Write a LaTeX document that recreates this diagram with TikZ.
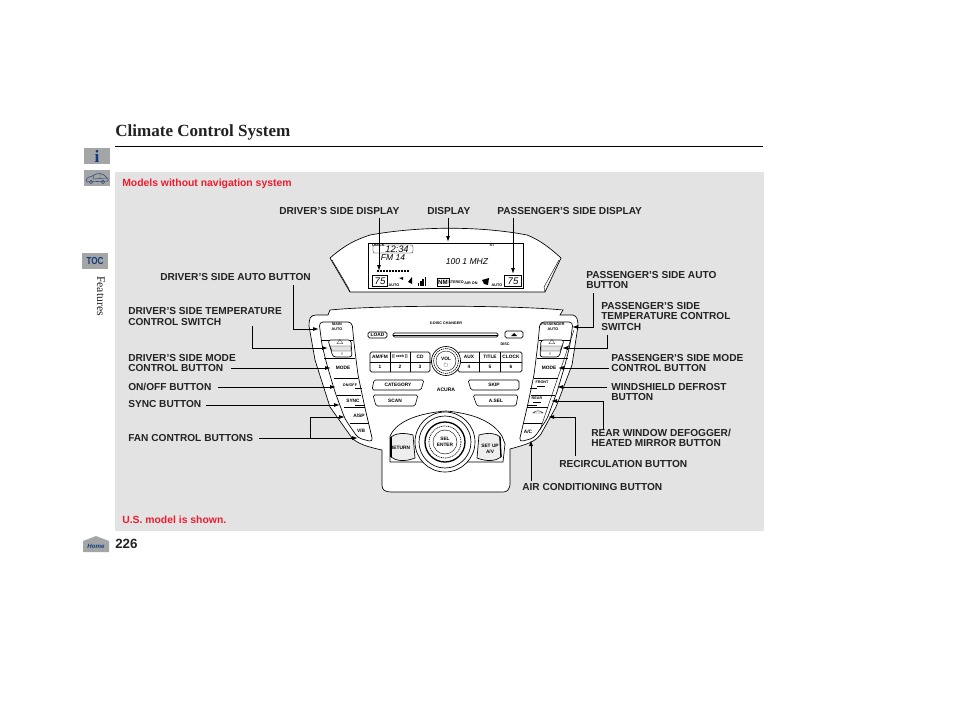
\documentclass[tikz,border=0pt]{standalone}
\usepackage{amssymb}
\usepackage{fontspec}
\setmainfont{Liberation Sans}
\newfontfamily\serifT{Liberation Serif}
\usetikzlibrary{arrows.meta}
\definecolor{pagegray}{HTML}{E3E3E3}
\definecolor{iconbg}{HTML}{A3A5A6}
\definecolor{navy}{HTML}{123C78}
\definecolor{redtxt}{HTML}{EE1C2E}
\definecolor{ink}{HTML}{222222}
\newcommand{\tn}[1]{{\fontsize{3.6}{4}\selectfont\bfseries #1}}
\newcommand{\tm}[1]{{\fontsize{2.8}{3}\selectfont\bfseries #1}}
\newcommand{\lcdtxt}[1]{{\fontsize{6.4}{8}\selectfont\itshape #1}}
\tikzset{
 lab/.style={anchor=west,inner sep=0pt,text=ink,font=\bfseries\fontsize{7.6}{7.8}\selectfont,align=left},
 red lab/.style={anchor=west,inner sep=0pt,text=redtxt,font=\bfseries\fontsize{7.8}{8}\selectfont},
 lead/.style={draw=black,line width=0.7pt,-{Latex[length=4.5pt,width=3pt]}},
 plain lead/.style={draw=black,line width=0.7pt},
 part/.style={draw=black,line width=0.5pt},
 thin part/.style={draw=black,line width=0.3pt},
 btn/.style={draw=black,line width=0.45pt,rounded corners=1.2pt,fill=white},
 tiny txt/.style={inner sep=0pt,text=black},
 two small/.style={inner sep=0pt,text=black,align=center,font=\bfseries\fontsize{2.8}{3.4}\selectfont},
 two mid/.style={inner sep=0pt,text=black,align=center,font=\bfseries\fontsize{3.6}{4.6}\selectfont},
 icon/.style={fill=iconbg,draw=none},
}
\newcommand{\sidecolumn}{%
  \draw[part,fill=white,rounded corners=3pt] (319,322) -- (352,322) -- (354,343) -- (358,375) -- (365,408) -- (373,442) -- (358,438) -- (345,419) -- (335,392) -- (327,365) -- (322,345) -- cycle;
  \draw[thin part] (321,340) -- (353,340);
  \draw[part,rounded corners=2pt,fill=white] (328,340) -- (351,340) -- (352,357) -- (333,357) -- cycle;
  \draw[thin part,fill=pagegray] (330,346) -- (351,346) -- (351,351) -- (332,351) -- cycle;
  \draw[thin part] (324,358) -- (355,358);
  \draw[part] (334,378) -- (358,378);
  \draw[thin part] (337,395) -- (361,395);
  \draw[part] (344,407) -- (365,407);
  \draw[part] (350,423) -- (369,423);
  \draw[thin part] (355,388) -- (362,388);
  \draw[thin part] (355,405) -- (365,405);
}
\begin{document}
\begin{tikzpicture}[x=0.75pt,y=-0.75pt]
\useasboundingbox[fill=white] (0,0) rectangle (954,710);
% page furniture
\node[anchor=base west,inner sep=0pt,text=ink,font=\serifT\bfseries\fontsize{12.8}{14}\selectfont] (title) at (115,137) {Climate Control System};
\coordinate (ruleL) at (115,146.5); \coordinate (ruleR) at (763,146.5);
\draw[line width=0.6pt,black] (ruleL) -- (ruleR);
\fill[pagegray] (115,172) rectangle (764,531);
\node[red lab] (models) at (122,184) {Models without navigation system};
\node[red lab] (usmodel) at (122,520) {U.S. model is shown.};
\node[anchor=west,inner sep=0pt,text=ink,font=\bfseries\fontsize{10}{11}\selectfont] (page) at (115,544) {226};
\node[rotate=-90,inner sep=0pt,text=ink,font=\serifT\fontsize{8.8}{9}\selectfont] (features) at (101,296) {Features};
% icons
\fill[icon] (84,148) rectangle (110,164);
\node[inner sep=0pt,text=navy,font=\serifT\bfseries\fontsize{13}{13}\selectfont] (infoi) at (97,156) {i};
\fill[icon] (84,170) rectangle (110,186);
\draw[navy!70!gray,line width=0.45pt] (86,180) .. controls (88,176) and (92,177) .. (94,175) .. controls (98,172) and (104,174) .. (106,177) .. controls (108,178) and (109,180) .. (108,181) -- (87,182) -- cycle;
\draw[navy!70!gray,line width=0.35pt] (91,182) circle (1.7) (103,182) circle (1.7) (94,175) -- (93,179) -- (107,178) (100,174) -- (100,179);
\fill[icon] (82,253) rectangle (108,269);
\node[inner sep=0pt,text=navy,xscale=0.8,font=\bfseries\fontsize{7.6}{8}\selectfont] (toc) at (95,261) {TOC};
\fill[icon] (83,541) -- (96,536) -- (109,541) -- (109,552) -- (83,552) -- cycle;
\node[inner sep=0pt,text=navy,font=\bfseries\itshape\fontsize{4.6}{5}\selectfont] (home) at (96,546) {Home};
% display housing
\draw[part,fill=white] (330,258) .. controls (345,245) and (355,240) .. (370,235) .. controls (420,226) and (480,226) .. (527,235) .. controls (540,240) and (550,248) .. (561,258) -- (545,292) -- (350,292) -- cycle;
\draw[thin part] (332,260) -- (348,287) -- (350,292);
\draw[thin part] (559,260) -- (544,287) -- (545,292);
\draw[line width=0.7pt,fill=white] (368,243) rectangle (523,288);
\draw[thin part,rounded corners=1pt] (373,245) rectangle (413,253);
\node[tiny txt,font=\itshape\fontsize{7}{7}\selectfont] (clock) at (397,249) {12:34};
\node[tiny txt] at (378,245.5) {\tm{TRACK}};
\node[tiny txt] (fm) at (393,258) {\lcdtxt{FM 14}};
\node[tiny txt] (freq) at (467,262) {\lcdtxt{100 1 MHZ}};
\node[tiny txt] at (492,245.5) {\tm{ST}};
\foreach \i in {0,...,10} \fill (377+3*\i,269.5) rectangle +(2,2.4);
\draw[thin part] (372,275) rectangle (387,286);
\draw[thin part] (504,275) rectangle (521,286);
\node[tiny txt,font=\itshape\fontsize{7.2}{7}\selectfont] (tempL) at (380,281) {75};
\node[tiny txt,font=\itshape\fontsize{7.2}{7}\selectfont] (tempR) at (513,281) {75};
\node[tiny txt] at (394,285) {\tm{AUTO}};
\node[tiny txt] at (497,285) {\tm{AUTO}};
\fill (399,278) -- (403,277) -- (403,280) -- cycle (408,282) -- (412,277) -- (412,284) -- cycle;
\foreach \i/\h in {0/3,1/5,2/7,3/9} \fill (418+2.2*\i,286-\h) rectangle +(1.4,\h);
\draw[part] (437,278) rectangle (449,286);
\node[tiny txt,font=\bfseries\fontsize{4.6}{5}\selectfont] at (443,282) {NM};
\node[tiny txt] at (456,282) {\tm{STEREO}};
\node[tiny txt] at (471,283) {\tm{AIR ON}};
\fill (482,280) -- (489,278) -- (488,285) -- (484,284) -- cycle;
% panel
\draw[part,fill=white] (330,310) .. controls (380,305) and (510,305) .. (563,310) -- (560,315) -- (573,315) .. controls (577,316) and (578,320) .. (578,326) -- (572,365) -- (556,407) -- (541,434) .. controls (535,442) and (528,444) .. (510,449) -- (510,485) .. controls (509,490) and (507,492) .. (503,492) -- (391,492) .. controls (385,492) and (382,490) .. (382,485) -- (382,450) .. controls (368,447) and (358,444) .. (352,438) -- (330,407) -- (315,360) -- (309,326) .. controls (309,319) and (310,315) .. (316,315) -- (328,315) -- cycle;
\sidecolumn
\begin{scope}[shift={(892,0)},xscale=-1]\sidecolumn\end{scope}
\draw[thin part] (352,438) -- (354,440) (540,430) -- (574,330);
\node[two small] (mainL) at (337,326.5) {MAIN\\AUTO};
\node[two small] (mainR) at (553,326.5) {PASSENGER\\AUTO};
\node[tiny txt] at (340,342.7) {\tm{$\triangle$}};
\node[tiny txt] at (342,354) {\tm{$\triangledown$}};
\node[tiny txt] at (552,342.7) {\tm{$\triangle$}};
\node[tiny txt] at (550,354) {\tm{$\triangledown$}};
\node[tiny txt] at (343,367.5) {\tn{MODE}};
\node[tiny txt] at (549,367.5) {\tn{MODE}};
\node[tiny txt] at (350,385) {\tm{ON/OFF}};
\node[tiny txt] at (353,401) {\tn{SYNC}};
\node[tiny txt] at (359,416) {\tn{A/SP}};
\node[tiny txt] at (361,430.5) {\tn{V/B}};
\node[tiny txt] at (542,382) {\tm{FRONT}};
\node[tiny txt] at (537,398) {\tm{REAR}};
\node[tiny txt] at (528,432) {\tn{A/C}};
\draw[thin part] (533,413) .. controls (536,410) and (540,410) .. (543,413) -- cycle;
\draw[thin part] (537,386) -- (545,386) (533,402) -- (541,402);
% radio
\node[tiny txt] (changer) at (446,323) {\tm{6-DISC CHANGER}};
\draw[btn] (368,332) rectangle (387,338);
\node[tiny txt] (load) at (377.5,335) {\tn{LOAD}};
\draw[part,rounded corners=1pt] (393,333) rectangle (498,337);
\draw[thin part] (393,335) -- (498,335);
\draw[btn] (505,331) rectangle (523,338);
\fill (511,336) -- (514,333) -- (517,336) -- cycle;
\node[tiny txt] at (505,344) {\tm{DISC}};
\draw[btn] (370,352) rectangle (430,372);
\draw[btn] (458,352) rectangle (522,372);
\draw[thin part] (370,362) -- (522,362);
\foreach \x in {390,410,479,500} \draw[thin part] (\x,352) -- (\x,372);
\node[tiny txt] at (380,357) {\tn{AM/FM}};
\node[tiny txt] at (400,357) {\tm{[[ seek ]]}};
\node[tiny txt] at (420,357) {\tn{CD}};
\node[tiny txt] at (469,357) {\tn{AUX}};
\node[tiny txt] at (490,357) {\tn{TITLE}};
\node[tiny txt] at (511,357) {\tn{CLOCK}};
\foreach \x/\t in {380/1,400/2,420/3,469/4,490/5,511/6} \node[tiny txt] at (\x,367) {\tn{\t}};
\draw[part,fill=white] (446,361) circle (14.5);
\draw[part,dash pattern=on 1pt off 0.6pt] (446,361) circle (12.5);
\draw[thin part] (446,361) circle (10);
\node[two mid] (vol) at (446,362.5) {VOL\\$\circlearrowright$};
\draw[btn] (374,380) -- (424,380) -- (421,390) -- (372,390) -- cycle;
\node[tiny txt] (cat) at (398,385) {\tn{CATEGORY}};
\draw[btn] (373,395) -- (418,395) -- (415,406) -- (376,406) -- cycle;
\node[tiny txt] (scan) at (395,400.5) {\tn{SCAN}};
\node[tiny txt,font=\bfseries\fontsize{3.8}{4}\selectfont] (acura) at (446,389.5) {ACURA};
\draw[btn] (468,380) -- (519,380) -- (519,390) -- (471,390) -- cycle;
\node[tiny txt] (skip) at (494,385) {\tn{SKIP}};
\draw[btn] (473,395) -- (518,395) -- (516,406) -- (477,406) -- cycle;
\node[tiny txt] (asel) at (496,400.5) {\tn{A.SEL}};
% lower controller
\draw[part,fill=white] (390,436) .. controls (395,425) and (410,414) .. (446,411) .. controls (480,414) and (495,425) .. (502,436) -- (505,444) -- (503,462) -- (390,462) -- cycle;
\draw[part,fill=pagegray!60] (391,437) .. controls (398,432) and (405,433) .. (413,435) -- (415,458) .. controls (405,462) and (396,461) .. (391,457) -- cycle;
\draw[line width=1pt] (391,437) -- (391,457);
\draw[part,fill=pagegray!60] (500,437) .. controls (494,432) and (487,433) .. (479,435) -- (477,458) .. controls (487,462) and (496,461) .. (501,457) -- cycle;
\draw[line width=1pt] (500,437) -- (501,457);
\node[tiny txt] (return) at (400,448) {\tn{RETURN}};
\node[two mid] (setup) at (490,449) {SET UP\\A/V};
\draw[part,fill=white] (445,442) circle (30);
\draw[part] (445,442) circle (26);
\draw[line width=1pt,fill=white] (445,442) circle (20);
\draw[part,dash pattern=on 0.8pt off 0.6pt] (445,442) circle (16);
\draw[thin part] (445,442) circle (12);
\node[two mid] (enter) at (445,442) {SEL\\ENTER};
% labels
\node[lab] (ldrvdisp) at (279,211) {DRIVER’S SIDE DISPLAY};
\node[lab] (ldisp) at (427,211) {DISPLAY};
\node[lab] (lpasdisp) at (497,211) {PASSENGER’S SIDE DISPLAY};
\node[lab] (ldrvauto) at (160,277) {DRIVER’S SIDE AUTO BUTTON};
\node[lab] (ldrvtemp) at (128,316.5) {DRIVER’S SIDE TEMPERATURE\\CONTROL SWITCH};
\node[lab] (ldrvmode) at (128,363) {DRIVER’S SIDE MODE\\CONTROL BUTTON};
\node[lab] (lonoff) at (128,387) {ON/OFF BUTTON};
\node[lab] (lsync) at (128,404.5) {SYNC BUTTON};
\node[lab] (lfan) at (128,438) {FAN CONTROL BUTTONS};
\node[lab] (lpasauto) at (586,280) {PASSENGER’S SIDE AUTO\\BUTTON};
\node[lab] (lpastemp) at (601,316.5) {PASSENGER’S SIDE\\TEMPERATURE CONTROL\\SWITCH};
\node[lab] (lpasmode) at (611,363) {PASSENGER’S SIDE MODE\\CONTROL BUTTON};
\node[lab] (ldefrost) at (611,392) {WINDSHIELD DEFROST\\BUTTON};
\node[lab] (lrear) at (591,438) {REAR WINDOW DEFOGGER/\\HEATED MIRROR BUTTON};
\node[lab] (lrecirc) at (559,464) {RECIRCULATION BUTTON};
\node[lab] (lair) at (522,487) {AIR CONDITIONING BUTTON};
% connector ends
\coordinate (a1) at (379,218); \coordinate (a1t) at (379,271);
\coordinate (a2) at (448,218); \coordinate (a2t) at (448,242);
\coordinate (a3) at (513,218); \coordinate (a3t) at (513,274);
\coordinate (b1) at (293,285); \coordinate (b1t) at (319,329);
\coordinate (b2) at (252,326); \coordinate (b2t) at (328,348);
\coordinate (b3) at (231,368); \coordinate (b3t) at (331,368);
\coordinate (b4) at (218,387); \coordinate (b4t) at (336,387);
\coordinate (b5) at (206,405); \coordinate (b5t) at (340,405);
\coordinate (b6) at (259,438); \coordinate (b6j) at (310,438); \coordinate (b6u) at (310,417); \coordinate (b6t) at (345,417); \coordinate (b7t) at (358,438);
\coordinate (c1) at (593,293); \coordinate (c1t) at (572,327);
\coordinate (c2) at (607,335); \coordinate (c2t) at (562,348);
\coordinate (c3) at (609,368); \coordinate (c3t) at (558,368);
\coordinate (c4) at (607,387); \coordinate (c4t) at (557,387);
\coordinate (c5) at (603,430); \coordinate (c5t) at (551,401);
\coordinate (c6) at (575,456); \coordinate (c6t) at (548,417);
\coordinate (c7) at (531,481); \coordinate (c7t) at (531,440);
% connectors
\draw[lead] (a1) -- (a1t);
\draw[lead] (a2) -- (a2t);
\draw[lead] (a3) -- (a3t);
\draw[lead] (b1) |- (b1t);
\draw[lead] (b2) |- (b2t);
\draw[lead] (b3) -- (b3t);
\draw[lead] (b4) -- (b4t);
\draw[lead] (b5) -- (b5t);
\draw[plain lead] (b6) -- (b6j);
\draw[lead] (b6j) -- (b6u) -- (b6t);
\draw[lead] (b6j) -- (b7t);
\draw[lead] (c1) |- (c1t);
\draw[lead] (c2) |- (c2t);
\draw[lead] (c3) -- (c3t);
\draw[lead] (c4) -- (c4t);
\draw[lead] (c5) |- (c5t);
\draw[lead] (c6) |- (c6t);
\draw[lead] (c7) -- (c7t);
\end{tikzpicture}
\end{document}
